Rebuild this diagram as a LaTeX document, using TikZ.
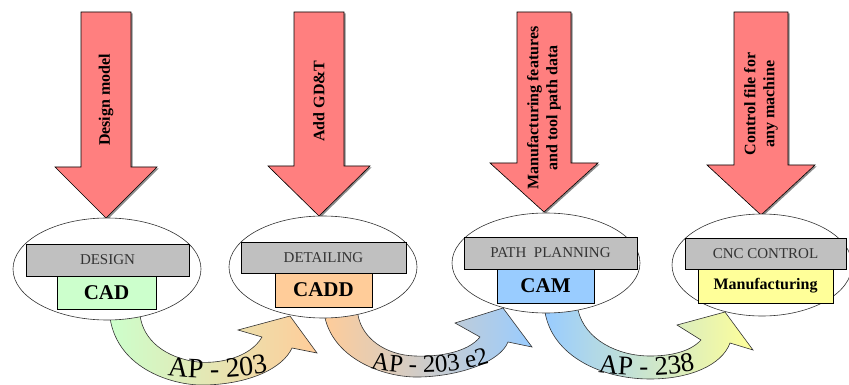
\documentclass[tikz,border=0pt]{standalone}
\usepackage{fontspec}
\setmainfont{Liberation Serif}
\usetikzlibrary{shapes.geometric,decorations.text}

\definecolor{arrowred}{HTML}{FF7F7F}
\definecolor{boxgray}{HTML}{C0C0C0}
\definecolor{cadgreen}{HTML}{CCFFCC}
\definecolor{caddorange}{HTML}{FFCC99}
\definecolor{camblue}{HTML}{99CCFF}
\definecolor{cncyellow}{HTML}{FFFF99}

\begin{document}
\begin{tikzpicture}[x=1pt, y=-1pt, % pixel grid, y going down
    stage/.style={ellipse, draw=black!80, fill=white, line width=0.6pt, minimum width=188pt, minimum height=102pt, inner sep=0pt},
    graybar/.style={draw, fill=boxgray, line width=0.7pt, text=black!80, font=\fontsize{15}{15}\selectfont, inner sep=0pt},
    toolbox/.style={draw, line width=0.7pt, font=\bfseries\fontsize{21}{21}\selectfont, inner sep=0pt},
    inlabel/.style={rotate=90, align=center, font=\bfseries\fontsize{16}{19}\selectfont},
    bendarrow/.style={draw=black!80, line width=0.6pt},
    aplabel/.style={decorate, decoration={text along path, text align=center, text={#1}}}]

    \useasboundingbox (0,0) rectangle (849,385);

    % Curved transfer arrows between the stages
    \shadedraw[bendarrow, left color=cadgreen, right color=caddorange]
        (108,300) -- (110,318) .. controls (118,370) and (175,386) .. (205,385)
        .. controls (250,384) and (283,368) .. (292,348) -- (317,353) -- (290,316)
        -- (238,330) -- (262,337) .. controls (250,358) and (218,364) .. (198,362)
        .. controls (165,358) and (143,340) .. (140,315) -- (140,300) -- cycle;
    \shadedraw[bendarrow, left color=caddorange, right color=camblue]
        (323,300) -- (325,318) .. controls (335,360) and (385,378) .. (420,377)
        .. controls (460,376) and (500,362) .. (508,342) -- (532,347) -- (503,308)
        -- (455,323) -- (480,337) .. controls (468,352) and (440,357) .. (415,356)
        .. controls (385,355) and (362,338) .. (358,315) -- (358,300) -- cycle;
    \shadedraw[bendarrow, left color=camblue, right color=cncyellow]
        (545,295) -- (545,312) .. controls (552,355) and (600,379) .. (650,379)
        .. controls (690,379) and (722,365) .. (730,343) -- (753,350) -- (725,312)
        -- (677,325) -- (701,340) .. controls (690,352) and (670,356) .. (650,356)
        .. controls (618,356) and (585,340) .. (578,310) -- (578,295) -- cycle;

    % Labels along the curved arrows
    \path[aplabel={|\fontsize{28}{28}\selectfont|AP - 203}]
        (145,371) .. controls (185,381) and (250,381) .. (290,366);
    \path[aplabel={|\fontsize{25}{25}\selectfont|AP - 203 e2}]
        (362,366) .. controls (395,376) and (460,376) .. (498,360);
    \path[aplabel={|\fontsize{27}{27}\selectfont|AP - 238}]
        (575,367) .. controls (610,378) and (680,379) .. (718,364);

    % Down arrows (centre/half shaft/half head/head top/tip)
    \foreach \c/\w/\h/\hy/\ty in {106/25/51/167/218, 319/25/51/166/216, 544/27/54/163/212, 761/27/54/165/215}{
        \fill[black!45, shift={(1.5,1.5)}] (\c-\w,12) -- (\c+\w,12) -- (\c+\w,\hy) -- (\c+\h,\hy)
            -- (\c,\ty) -- (\c-\h,\hy) -- (\c-\w,\hy) -- cycle;
        \filldraw[fill=arrowred, draw=black, line width=0.6pt] (\c-\w,12) -- (\c+\w,12) -- (\c+\w,\hy)
            -- (\c+\h,\hy) -- (\c,\ty) -- (\c-\h,\hy) -- (\c-\w,\hy) -- cycle;
    }
    \node[inlabel] (modeltext) at (106,100) {Design model};
    \node[inlabel] (gdttext) at (319,101) {Add GD\&T};
    \node[inlabel] (featuretext) at (544,108) {Manufacturing features\\and tool path data};
    \node[inlabel] (controltext) at (761,104) {Control file for\\any machine};

    % Stages
    \node[stage] (design) at (107,269) {};
    \node[stage] (detailing) at (323,267) {};
    \node[stage, minimum height=100pt] (planning) at (546,263) {};
    \node[stage, minimum width=180pt] (control) at (762,265) {};

    % Stage bars and tool boxes
    \node[graybar, minimum width=163pt, minimum height=32pt] (designbar) at (107.5,260) {DESIGN};
    \node[toolbox, fill=cadgreen, minimum width=99pt, minimum height=33pt] (cad) at (106.5,292.5) {CAD};

    \node[graybar, minimum width=165pt, minimum height=31pt] (detailbar) at (323.5,257.5) {DETAILING};
    \node[toolbox, fill=caddorange, minimum width=97pt, minimum height=34pt] (cadd) at (323.5,290) {CADD};

    \node[graybar, minimum width=173pt, minimum height=32pt] (pathbar) at (550.5,253) {PATH\ \ PLANNING};
    \node[toolbox, fill=camblue, minimum width=97pt, minimum height=34pt] (cam) at (545.5,286) {CAM};

    \node[graybar, minimum width=161pt, minimum height=31pt] (cncbar) at (765.5,253.5) {CNC CONTROL};
    \node[toolbox, fill=cncyellow, minimum width=135pt, minimum height=34pt, font=\bfseries\fontsize{16}{16}\selectfont] (mfg) at (765.5,286) {Manufacturing};
\end{tikzpicture}
\end{document}
